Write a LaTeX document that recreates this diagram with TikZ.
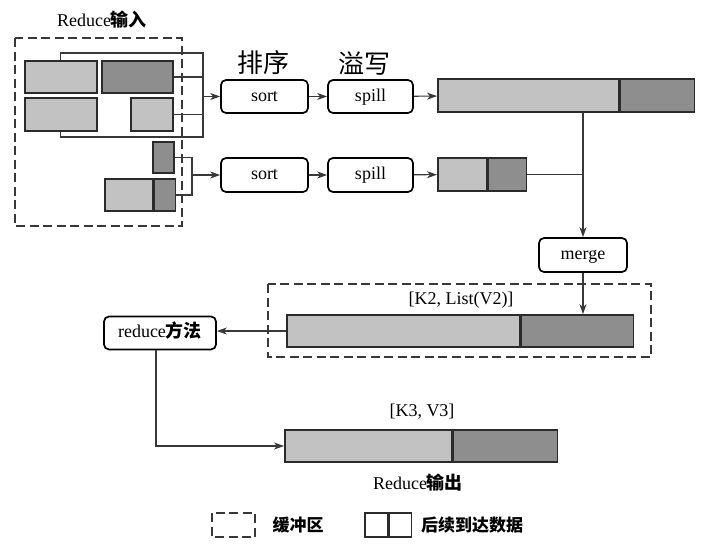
\documentclass[tikz,border=0pt]{standalone}
\usepackage{fontspec}
\setmainfont{Liberation Serif}
\newfontfamily\cjk{Noto Sans CJK SC}
\usepackage{tikz}
\usetikzlibrary{arrows.meta,positioning,calc}
\definecolor{lite}{HTML}{C2C2C2}
\definecolor{dark}{HTML}{8E8E8E}
\definecolor{edge}{HTML}{2B2B2B}
\definecolor{wire}{HTML}{383838}

\begin{document}
\begin{tikzpicture}[x=1pt,y=-1pt,
  bx/.style={draw=black,fill=white,line width=1.7pt,rounded corners=5pt,font=\fontsize{18}{20}\selectfont,inner sep=0pt,text height=12pt,text depth=3pt},
  blk/.style={draw=edge,line width=1.7pt,inner sep=0pt,anchor=west},
  lt/.style={blk,fill=lite},
  dk/.style={blk,fill=dark},
  buf/.style={draw=wire,line width=1.1pt,dash pattern=on 9pt off 4.5pt},
  ln/.style={wire,line width=1.1pt},
  ar/.style={ln,-{Stealth[length=10pt,width=7pt,inset=3pt]}},
  lb/.style={font=\fontsize{18}{20}\selectfont},
  hw/.style={font=\cjk\fontsize{26}{28}\selectfont}]
  \useasboundingbox (0,0) rectangle (707,544);
  % input buffer
  \draw[buf] (15,38) rectangle (182,226);
  \node[lb] (inp) at (102,20) {Reduce{\cjk\bfseries 输入}};
  \node[lt,minimum width=72pt,minimum height=32pt] (A) at (24,77) {};
  \node[dk,minimum width=71pt,minimum height=32pt] (B) at (101,77) {};
  \node[lt,minimum width=72pt,minimum height=33pt] (C) at (24,114.5) {};
  \node[lt,minimum width=42pt,minimum height=33pt] (D) at (130,114.5) {};
  \node[dk,minimum width=21pt,minimum height=31pt] (E) at (152,157.5) {};
  \node[lt,minimum width=48pt,minimum height=32pt] (F1) at (104,195) {};
  \node[dk,minimum width=21pt,minimum height=32pt] (F2) at (F1.east) {};
  % sort / spill
  \node[bx,minimum width=87pt,minimum height=33pt] (sort1) at (264.5,96.5) {sort};
  \node[bx,minimum width=85pt,minimum height=33pt] (spill1) at (370.5,96.5) {spill};
  \node[bx,minimum width=87pt,minimum height=34pt] (sort2) at (264.5,175) {sort};
  \node[bx,minimum width=85pt,minimum height=34pt] (spill2) at (370.5,175) {spill};
  \node[hw] (pai) at (263,63) {排序};
  \node[hw] (yi) at (364,63) {溢写};
  \node[lt,minimum width=181pt,minimum height=33pt] (L1) at (437,95.5) {};
  \node[dk,minimum width=74pt,minimum height=33pt] (L2) at (L1.east) {};
  \node[lt,minimum width=49pt,minimum height=33pt] (S1) at (437,174.5) {};
  \node[dk,minimum width=38pt,minimum height=33pt] (S2) at (S1.east) {};
  % merge and reduce
  \node[bx,minimum width=88pt,minimum height=34pt] (merge) at (583,255) {merge};
  \draw[buf] (268,284) rectangle (651,357);
  \node[lb] (k2) at (461,300) {[K2, List(V2)]};
  \node[lt,minimum width=233pt,minimum height=32pt] (K2a) at (286,331) {};
  \node[dk,minimum width=112pt,minimum height=32pt] (K2b) at (K2a.east) {};
  \node[bx,minimum width=112pt,minimum height=33pt] (red) at (160,333) {reduce{\cjk\bfseries 方法}};
  \node[lb] (k3) at (422,412) {[K3, V3]};
  \node[lt,minimum width=167pt,minimum height=32pt] (K3a) at (284,446) {};
  \node[dk,minimum width=104pt,minimum height=32pt] (K3b) at (K3a.east) {};
  \node[lb] (outp) at (418,483) {Reduce{\cjk\bfseries 输出}};
  % legend
  \draw[buf] (212,513) rectangle (255,537);
  \node[font=\cjk\bfseries\fontsize{17}{20}\selectfont] (lg1) at (298,525) {缓冲区};
  \node[blk,fill=white,minimum width=23pt,minimum height=24pt] (g1) at (364,525) {};
  \node[blk,fill=white,minimum width=22pt,minimum height=24pt] (g2) at (g1.east) {};
  \node[font=\cjk\bfseries\fontsize{17}{20}\selectfont] (lg2) at (472,525) {后续到达数据};
  % wires
  \coordinate (jt) at (203,53);
  \coordinate (jb) at (203,137);
  \coordinate (j1) at (203,96.5);
  \coordinate (k1) at (192,175);
  \draw[ln] (A.north) |- (jt) -- (jb) -| (C.south);
  \draw[ln] (B.east) -- (B.east -| jt);
  \draw[ln] (D.east) -- (D.east -| jt);
  \draw[ar] (j1) -- (sort1);
  \draw[ln] (E.east) -| (k1) |- (F2.east);
  \draw[ar] (k1) -- (sort2);
  \draw[ar] (sort1) -- (spill1);
  \draw[ar] (spill1) -- (L1);
  \draw[ar] (sort2) -- (spill2);
  \draw[ar] (spill2) -- (S1);
  \draw[ar] (L1.south -| merge) -- (merge.north);
  \draw[ln] (S2.east) -- (S2.east -| merge);
  \draw[ar] (merge.south) -- (merge.south |- K2b.north);
  \draw[ar] (K2a.west) -- (K2a.west -| red.east);
  \draw[ar] ([xshift=-4pt]red.south) |- (K3a.west);
\end{tikzpicture}
\end{document}
